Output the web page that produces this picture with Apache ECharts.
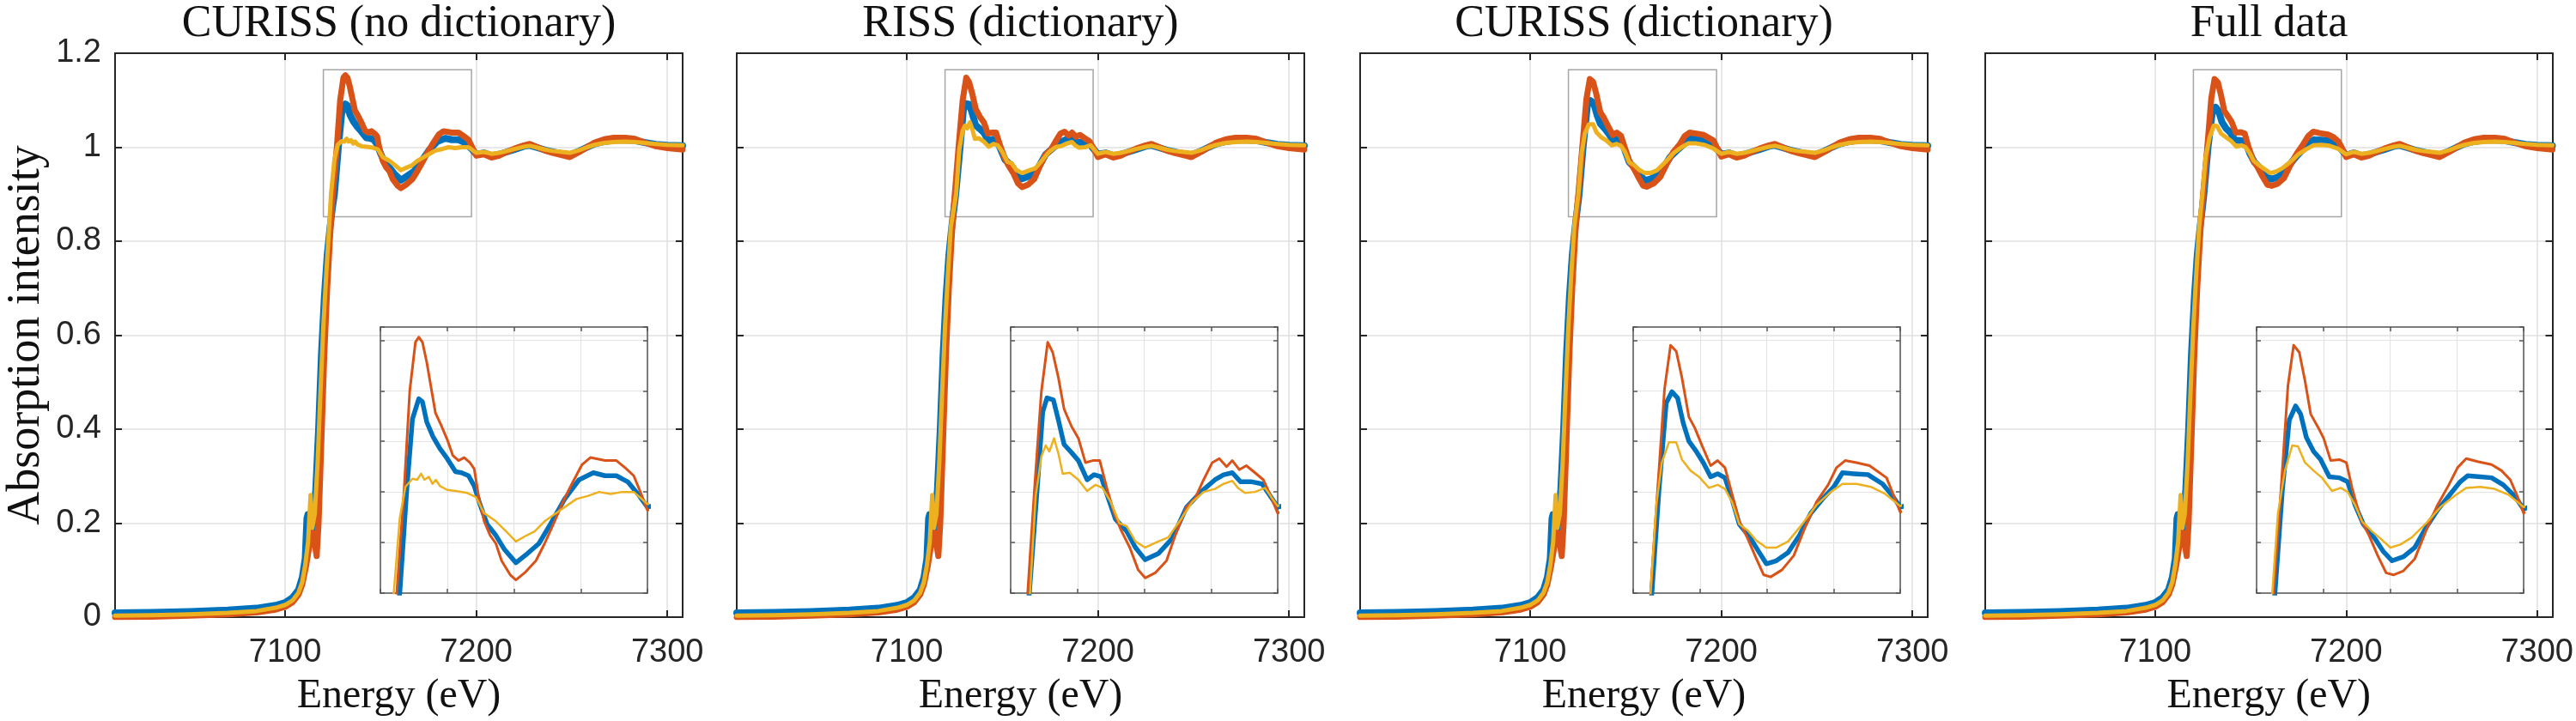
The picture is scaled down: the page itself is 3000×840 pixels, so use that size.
<!DOCTYPE html>
<html>
<head>
<meta charset="utf-8">
<script src="https://cdn.jsdelivr.net/npm/echarts@6/dist/echarts.min.js"></script>
<style>html,body{margin:0;padding:0;background:#fff}#chart{width:3000px;height:840px}</style>
</head>
<body>
<div id="chart"></div>
<script>
// ---------------- DATA ----------------
const panelTitles = ['CURISS (no dictionary)', 'RISS (dictionary)', 'CURISS (dictionary)', 'Full data'];
const seriesNames = ['Spectrum 1', 'Spectrum 2', 'Spectrum 3'];
const energyTickLabels = [7100, 7200, 7300];
const energyRange = [7011, 7308];
const intensityRange = [0, 1.2];
const insetEnergyRange = [7120, 7200];
const insetIntensityRange = [0.9, 1.163];
const zoomBoxEnergy = [7120, 7197.5];
const zoomBoxIntensity = [0.852, 1.165];

// shared pre-edge parts [energy, intensity]
const preBlue = [[7011,0.009],[7030,0.010],[7050,0.012],[7070,0.015],[7085,0.019],[7095,0.025],[7100,0.031],[7104,0.042],[7107,0.058],[7109,0.085],[7110.5,0.125],[7111.4,0.21],[7111.9,0.218],[7112.6,0.17],[7114,0.18],[7116,0.27],[7117.5,0.40],[7119,0.56],[7120.5,0.68],[7122,0.77],[7123.5,0.83],[7124.7,0.87]];
const preOrange = [[7011,0.0],[7030,0.001],[7050,0.003],[7070,0.006],[7085,0.010],[7095,0.016],[7100,0.022],[7104,0.032],[7107,0.048],[7109,0.070],[7111,0.11],[7113,0.16],[7114.5,0.18],[7116.5,0.13],[7117.5,0.20],[7119,0.38],[7120.5,0.56],[7122,0.70],[7123.5,0.81],[7124.3,0.86]];
const preYellow = [[7011,0.003],[7030,0.004],[7050,0.006],[7070,0.009],[7085,0.013],[7095,0.020],[7100,0.026],[7104,0.036],[7107,0.052],[7109,0.075],[7110.5,0.11],[7112,0.16],[7113.3,0.26],[7114.2,0.19],[7115.5,0.22],[7117,0.33],[7118.5,0.48],[7120,0.62],[7121.5,0.73],[7123,0.83]];

// shared EXAFS tails
const tailBlue = [[7204,0.988],[7208,0.982],[7212,0.985],[7216,0.990],[7220,0.995],[7225,1.002],[7228,1.004],[7232,0.999],[7236,0.994],[7240,0.990],[7245,0.986],[7249,0.984],[7254,0.992],[7258,1.000],[7262,1.007],[7267,1.012],[7272,1.015],[7278,1.015],[7283,1.014],[7288,1.010],[7294,1.006],[7300,1.004],[7308,1.003]];
const tailOrange = [[7204,0.985],[7208,0.978],[7212,0.982],[7216,0.990],[7220,0.997],[7225,1.004],[7228,1.007],[7232,1.000],[7236,0.993],[7240,0.988],[7245,0.983],[7249,0.979],[7254,0.990],[7258,1.000],[7262,1.010],[7267,1.017],[7272,1.020],[7278,1.020],[7283,1.018],[7288,1.010],[7294,1.002],[7300,0.998],[7308,0.995]];
const tailYellow = [[7204,0.990],[7208,0.986],[7212,0.988],[7216,0.992],[7220,0.996],[7225,1.001],[7228,1.003],[7232,0.999],[7236,0.995],[7240,0.992],[7245,0.990],[7249,0.988],[7254,0.994],[7258,1.000],[7262,1.005],[7267,1.009],[7272,1.011],[7278,1.012],[7283,1.011],[7288,1.009],[7294,1.007],[7300,1.005],[7308,1.004]];

// per-panel XANES parts
const p1Blue = [[7125.8,0.9],[7127.9,1.002],[7129.6,1.072],[7131.5,1.092],[7132.6,1.089],[7133.9,1.069],[7135.7,1.055],[7137.8,1.043],[7140,1.033],[7142.5,1.020],[7144.3,1.019],[7146.4,1.016],[7148.1,1.006],[7149.8,0.988],[7152,0.968],[7154.6,0.957],[7157.2,0.943],[7160.6,0.930],[7164,0.939],[7167.5,0.949],[7170.9,0.968],[7175.2,0.993],[7179.5,1.012],[7183.8,1.019],[7187.3,1.016],[7190.7,1.016],[7194.1,1.010],[7197.6,0.996],[7200,0.985]];
const p1Orange = [[7124.9,0.9],[7127.1,1.002],[7128.8,1.100],[7130.5,1.148],[7131.5,1.153],[7132.6,1.148],[7133.9,1.128],[7135.2,1.103],[7136.5,1.078],[7138.2,1.066],[7140,1.052],[7141.7,1.036],[7143.4,1.031],[7145.1,1.034],[7146.8,1.029],[7148.1,1.023],[7149.4,0.996],[7151.1,0.971],[7152.9,0.957],[7154.6,0.949],[7156.3,0.932],[7158.9,0.918],[7160.6,0.913],[7163.2,0.920],[7166.6,0.932],[7169.2,0.949],[7171.8,0.968],[7174.4,0.988],[7176.9,1.005],[7180.4,1.027],[7182.9,1.034],[7187.3,1.031],[7190.7,1.031],[7193.3,1.024],[7195.9,1.016],[7198,0.999],[7200,0.982]];
const p1Yellow = [[7124,0.9],[7125.8,0.974],[7127.5,1.005],[7129.6,1.013],[7131,1.012],[7132.2,1.018],[7133.2,1.012],[7134.5,1.015],[7135.6,1.008],[7136.6,1.012],[7137.8,1.006],[7140,1.002],[7142.5,1.001],[7146,0.999],[7148.6,0.995],[7151.1,0.979],[7154.6,0.971],[7158,0.960],[7160.6,0.951],[7163.2,0.956],[7166.2,0.961],[7169.2,0.971],[7173.5,0.981],[7178.7,0.993],[7182.1,0.996],[7185.5,1.000],[7189,0.998],[7192.4,1.000],[7195.9,1.000],[7200,0.988]];

const p2Blue = [[7125.6,0.9],[7127.9,1.001],[7129.6,1.079],[7130.9,1.093],[7132.8,1.091],[7134.3,1.071],[7136,1.047],[7138.2,1.039],[7140.3,1.031],[7142.9,1.012],[7145,1.017],[7147.1,1.015],[7148.8,0.998],[7151.4,0.973],[7154.8,0.961],[7157.4,0.945],[7160.3,0.933],[7164.2,0.939],[7168.4,0.954],[7172.7,0.985],[7177,1.000],[7181.2,1.012],[7183.8,1.017],[7186.4,1.019],[7188.9,1.010],[7192.3,1.010],[7195.3,1.008],[7200,0.985]];
const p2Orange = [[7125.1,0.9],[7127.1,1.001],[7129.2,1.099],[7131.1,1.148],[7132.6,1.138],[7134.3,1.113],[7136,1.082],[7138.2,1.065],[7140.3,1.053],[7142.4,1.029],[7144.6,1.031],[7146.7,1.031],[7148.8,1.004],[7151,0.979],[7153.1,0.962],[7155.7,0.945],[7158.2,0.923],[7160.3,0.915],[7163.3,0.920],[7166.7,0.932],[7169.3,0.957],[7172.7,0.985],[7175.3,0.994],[7177.8,1.012],[7180.4,1.029],[7182.5,1.033],[7184.7,1.025],[7186.4,1.031],[7188.5,1.022],[7190.6,1.026],[7193.2,1.019],[7195.7,1.012],[7197.9,0.996],[7200,0.979]];
const p2Yellow = [[7125.8,0.9],[7127.5,0.996],[7129.2,1.035],[7130.5,1.046],[7131.6,1.040],[7133,1.053],[7134.3,1.038],[7135.6,1.018],[7137.7,1.019],[7140.3,1.012],[7142.9,1.001],[7145.4,1.007],[7147.5,1.004],[7150,0.990],[7152.6,0.969],[7154.8,0.966],[7157.4,0.951],[7160.3,0.945],[7164.2,0.951],[7167.2,0.955],[7171,0.973],[7174.4,0.990],[7177.8,1.000],[7181.2,1.003],[7183.8,1.008],[7186.4,1.011],[7188.1,1.004],[7190.2,0.999],[7193.2,1.000],[7196.2,1.004],[7200,0.986]];

const p3Blue = [[7125.6,0.9],[7127.7,1.001],[7129.9,1.088],[7131.6,1.099],[7133.3,1.093],[7135,1.068],[7136.7,1.050],[7138.9,1.040],[7141,1.029],[7143.2,1.015],[7145.3,1.018],[7147.5,1.014],[7149.6,0.993],[7151.8,0.968],[7155.2,0.954],[7157.8,0.940],[7159.9,0.929],[7162.9,0.932],[7166.4,0.940],[7169.8,0.957],[7173.2,0.979],[7176.7,0.993],[7180.1,1.005],[7182.7,1.019],[7186.1,1.018],[7190.4,1.017],[7194.7,1.008],[7197.7,0.996],[7200,0.985]];
const p3Orange = [[7125.2,0.9],[7127.3,1.001],[7129.4,1.102],[7131.2,1.145],[7132.9,1.139],[7134.6,1.113],[7136.7,1.074],[7138.5,1.063],[7140.6,1.046],[7143.2,1.026],[7145.3,1.031],[7147.5,1.024],[7149.6,0.998],[7151.8,0.971],[7154.3,0.954],[7156.9,0.934],[7159.1,0.918],[7161.2,0.916],[7164.6,0.923],[7168.1,0.937],[7171.5,0.965],[7174.9,0.990],[7178.4,1.007],[7180.9,1.024],[7183.5,1.031],[7186.9,1.029],[7190.8,1.026],[7193.8,1.019],[7195.9,1.014],[7198.1,0.996],[7200,0.980]];
const p3Yellow = [[7125.2,0.9],[7126.9,0.987],[7128.6,1.029],[7130.7,1.049],[7132.9,1.049],[7134.6,1.032],[7137.2,1.021],[7139.7,1.015],[7142.7,1.004],[7145.3,1.007],[7147.5,1.003],[7149.6,0.990],[7151.8,0.968],[7154.3,0.962],[7156.9,0.952],[7159.9,0.945],[7162.9,0.945],[7166.4,0.951],[7170.6,0.968],[7174.9,0.987],[7179.2,1.000],[7182.7,1.008],[7186.9,1.008],[7191.2,1.005],[7195.5,0.998],[7200,0.986]];

const p4Blue = [[7125.5,0.9],[7127.7,1.001],[7129.8,1.071],[7131.7,1.085],[7133.2,1.077],[7134.9,1.054],[7137.1,1.040],[7139.2,1.032],[7141.8,1.015],[7144.8,1.014],[7147.3,1.010],[7149.5,0.987],[7152,0.968],[7155.4,0.954],[7158,0.941],[7160.6,0.932],[7164,0.936],[7167.4,0.945],[7170.8,0.965],[7174.2,0.982],[7177.6,0.996],[7181,1.010],[7183.2,1.016],[7187,1.015],[7190.4,1.014],[7193.9,1.007],[7197.3,0.996],[7200,0.983]];
const p4Orange = [[7125.1,0.9],[7127.3,1.001],[7129.4,1.105],[7131.1,1.145],[7132.8,1.138],[7134.5,1.110],[7136.2,1.077],[7138.4,1.064],[7140.1,1.053],[7142.2,1.031],[7144.8,1.032],[7146.9,1.029],[7148.6,1.004],[7151.2,0.973],[7153.7,0.957],[7156.3,0.937],[7158.8,0.920],[7161,0.918],[7164,0.922],[7167.4,0.934],[7170.8,0.962],[7174.2,0.987],[7177.6,1.007],[7180.2,1.024],[7182.8,1.033],[7186.2,1.030],[7190.4,1.027],[7193.4,1.021],[7196,1.012],[7198.1,0.996],[7200,0.979]];
const p4Yellow = [[7124.7,0.9],[7126.4,0.979],[7128.5,1.021],[7130.7,1.046],[7132.4,1.045],[7134.5,1.029],[7137.1,1.021],[7139.6,1.014],[7142.6,1.001],[7145.2,1.004],[7147.3,1.000],[7149.5,0.987],[7151.6,0.971],[7154.6,0.961],[7157.1,0.954],[7160.1,0.945],[7163.1,0.948],[7166.5,0.955],[7170.8,0.969],[7175.1,0.985],[7179.3,0.996],[7182.8,1.004],[7187,1.005],[7191.3,1.003],[7195.6,0.997],[7200,0.985]];

// ---------------- BUILD ----------------
const xanesByPanel = [
  [p1Blue, p1Orange, p1Yellow],
  [p2Blue, p2Orange, p2Yellow],
  [p3Blue, p3Orange, p3Yellow],
  [p4Blue, p4Orange, p4Yellow]
];
const preParts = [preBlue, preOrange, preYellow];
const tailParts = [tailBlue, tailOrange, tailYellow];
const lineColors = ['#0072BD', '#D95319', '#EDB120'];
const mainWidths = [8, 7, 5];
const insetWidths = [5.5, 3, 2.5];

const panelLeft = [134, 858, 1584, 2312];
const panelTop = 62, panelW = 661, panelH = 657;
const insetLeft = [443, 1177, 1902, 2628];
const insetTop = 381, insetW = 311, insetH = 310;

const AX = '#262626';
const INAX = '#555555';
const tickFont = 'Liberation Sans, Arial, Helvetica, sans-serif';
const serifFont = 'Liberation Serif, Times New Roman, serif';

const grid = [], xAxis = [], yAxis = [], series = [], title = [];

panelTitles.forEach((t, i) => {
  grid.push({left: panelLeft[i], top: panelTop, width: panelW, height: panelH, containLabel: false});
  grid.push({left: insetLeft[i], top: insetTop, width: insetW, height: insetH, containLabel: false});
  title.push({text: t, left: panelLeft[i] + panelW / 2, top: 2, padding: 0, textAlign: 'center',
    textStyle: {fontFamily: serifFont, fontSize: 52, fontWeight: 'normal', color: '#111'}});

  ['bottom', 'top'].forEach(pos => {
    xAxis.push({
      type: 'value', gridIndex: 2 * i, position: pos, min: energyRange[0], max: energyRange[1],
      axisLine: {show: true, onZero: false, lineStyle: {color: AX, width: 2}},
      axisTick: {show: true, inside: true, length: 8, customValues: energyTickLabels, lineStyle: {color: AX, width: 2}},
      axisLabel: pos === 'bottom' ? {show: true, customValues: energyTickLabels, margin: 23, fontSize: 38,
        fontFamily: tickFont, color: AX,
        formatter: v => (Math.abs(v % 100) < 1e-6 ? String(Math.round(v)) : '')} : {show: false},
      splitLine: {show: pos === 'bottom', lineStyle: {color: '#e1e1e1', width: 1.5}},
      name: pos === 'bottom' ? 'Energy (eV)' : '', nameLocation: 'middle', nameGap: 68,
      nameTextStyle: {fontFamily: serifFont, fontSize: 48, color: '#111'}
    });
  });
  ['bottom', 'top'].forEach(pos => {
    xAxis.push({
      type: 'value', gridIndex: 2 * i + 1, position: pos, min: insetEnergyRange[0], max: insetEnergyRange[1], interval: 20,
      axisLine: {show: true, onZero: false, lineStyle: {color: INAX, width: 1.5}},
      axisTick: {show: true, inside: true, length: 5, lineStyle: {color: INAX, width: 1.5}},
      axisLabel: {show: false},
      splitLine: {show: pos === 'bottom', lineStyle: {color: '#e4e4e4', width: 1.2}}
    });
  });
  ['left', 'right'].forEach(pos => {
    const showLab = (i === 0 && pos === 'left');
    yAxis.push({
      type: 'value', gridIndex: 2 * i, position: pos, min: intensityRange[0], max: intensityRange[1], interval: 0.2,
      axisLine: {show: true, onZero: false, lineStyle: {color: AX, width: 2}},
      axisTick: {show: true, inside: true, length: 8, lineStyle: {color: AX, width: 2}},
      axisLabel: {show: showLab, margin: 16, fontSize: 38, fontFamily: tickFont, color: AX},
      splitLine: {show: pos === 'left', lineStyle: {color: '#e1e1e1', width: 1.5}},
      name: showLab ? 'Absorption intensity' : '', nameLocation: 'middle', nameGap: 76,
      nameTextStyle: {fontFamily: serifFont, fontSize: 54, color: '#111'}
    });
  });
  ['left', 'right'].forEach(pos => {
    yAxis.push({
      type: 'value', gridIndex: 2 * i + 1, position: pos, min: insetIntensityRange[0], max: insetIntensityRange[1], interval: 0.05,
      axisLine: {show: true, onZero: false, lineStyle: {color: INAX, width: 1.5}},
      axisTick: {show: true, inside: true, length: 5, lineStyle: {color: INAX, width: 1.5}},
      axisLabel: {show: false},
      splitLine: {show: pos === 'left', lineStyle: {color: '#e4e4e4', width: 1.2}}
    });
  });

  for (let s = 0; s < 3; s++) {
    const data = preParts[s].concat(xanesByPanel[i][s], tailParts[s]);
    const main = {
      name: seriesNames[s], type: 'line', xAxisIndex: 4 * i, yAxisIndex: 4 * i,
      data: data, showSymbol: false, symbol: 'none', clip: true, silent: true, z: 3 + s,
      lineStyle: {color: lineColors[s], width: mainWidths[s], join: 'round', cap: 'round'},
      itemStyle: {color: lineColors[s]}
    };
    if (s === 0) {
      main.markArea = {silent: true, z: 1,
        itemStyle: {color: 'rgba(0,0,0,0)', borderColor: '#a6a6a6', borderWidth: 1.5},
        data: [[{coord: [zoomBoxEnergy[0], zoomBoxIntensity[0]]}, {coord: [zoomBoxEnergy[1], zoomBoxIntensity[1]]}]]};
    }
    series.push(main);
    series.push({
      name: seriesNames[s], type: 'line', xAxisIndex: 4 * i + 2, yAxisIndex: 4 * i + 2,
      data: data, showSymbol: false, symbol: 'none', clip: true, silent: true, z: 3 + s,
      lineStyle: {color: lineColors[s], width: insetWidths[s], join: 'round'},
      itemStyle: {color: lineColors[s]}
    });
  }
});

const chart = echarts.init(document.getElementById('chart'), null, {renderer: 'canvas'});
chart.setOption({
  backgroundColor: '#ffffff',
  animation: false,
  title: title,
  grid: grid,
  xAxis: xAxis,
  yAxis: yAxis,
  series: series
});
</script>
</body>
</html>
